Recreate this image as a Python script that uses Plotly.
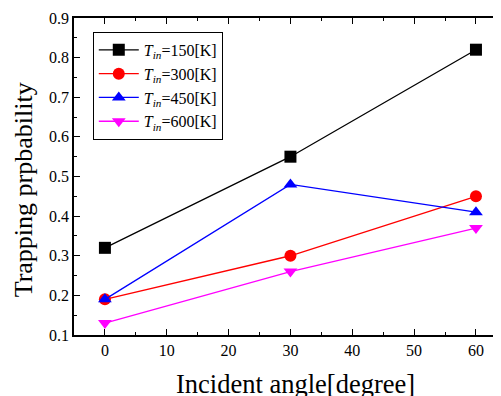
import plotly.graph_objects as go

angles = [0, 30, 60]
t150 = [0.32, 0.55, 0.82]
t300 = [0.19, 0.30, 0.45]
t450 = [0.19, 0.48, 0.41]
t600 = [0.13, 0.26, 0.37]
names = ["150", "300", "450", "600"]

series = [
    (t150, "#000000", "square"),
    (t300, "#ff0000", "circle"),
    (t450, "#0000ff", "triangle-up"),
    (t600, "#ff00ff", "triangle-down"),
]

fig = go.Figure()
for (vals, col, sym), nm in zip(series, names):
    fig.add_trace(go.Scatter(
        x=angles, y=vals, mode="lines+markers",
        name=f"<i>T</i><sub><i>in</i></sub>={nm}[K]",
        line=dict(color=col, width=1.3),
        marker=dict(symbol=sym, size=12, color=col),
    ))

font = "Liberation Serif, Times New Roman, serif"
fig.update_layout(
    width=493, height=388,
    margin=dict(l=66, r=0, t=10, b=61, autoexpand=False),
    paper_bgcolor="white", plot_bgcolor="white",
    font=dict(family=font, size=16, color="black"),
    showlegend=True,
    legend=dict(x=0.044, y=0.956, xanchor="left", yanchor="top",
                bgcolor="white", bordercolor="black", borderwidth=1,
                font=dict(size=16), tracegroupgap=0, itemwidth=40),
    xaxis=dict(range=[-5, 64.05], tickvals=[0, 10, 20, 30, 40, 50, 60],
               ticks="inside", ticklen=6, tickwidth=1, tickcolor="black",
               minor=dict(dtick=5, tick0=0, ticks="inside", ticklen=3, tickcolor="black"),
               showline=True, linecolor="black", linewidth=1.5, mirror="ticks",
               showgrid=False, zeroline=False, automargin=False),
    yaxis=dict(range=[0.1, 0.9], dtick=0.1, tickformat=".1f",
               ticks="inside", ticklen=6, tickwidth=1, tickcolor="black",
               minor=dict(dtick=0.05, ticks="inside", ticklen=3, tickcolor="black"),
               showline=True, linecolor="black", linewidth=1.5,
               showgrid=False, zeroline=False, automargin=False),
    annotations=[
        dict(text="Incident angle[degree]", xref="paper", yref="paper",
             x=0.5176, y=-0.1546, xanchor="center", yanchor="middle",
             showarrow=False, font=dict(size=26.5)),
        dict(text="Trapping prpbability", xref="paper", yref="paper",
             x=-0.119, y=0.457, xanchor="center", yanchor="middle",
             textangle=-90, showarrow=False, font=dict(size=26)),
    ],
)
fig.write_html("out.html")
